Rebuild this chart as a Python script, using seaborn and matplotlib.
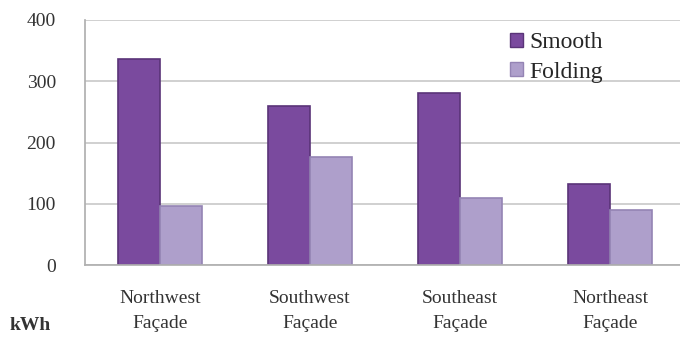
import matplotlib
matplotlib.use("Agg")
import matplotlib.pyplot as plt
import seaborn as sns
import pandas as pd
from matplotlib.patches import Patch

facades = ["Northwest\nFaçade", "Southwest\nFaçade", "Southeast\nFaçade", "Northeast\nFaçade"]
series = ["Smooth", "Folding"]
smooth_kwh = [337, 260, 281, 133]
folding_kwh = [96, 176, 109, 89]
y_ticks = [0, 100, 200, 300, 400]
unit_label = "kWh"

colors = {"Smooth": "#7a4a9e", "Folding": "#ae9fcb"}
edges = {"Smooth": "#5a3478", "Folding": "#9484b4"}

df = pd.DataFrame({
    "facade": facades * 2,
    "series": [series[0]] * len(facades) + [series[1]] * len(facades),
    "kwh": smooth_kwh + folding_kwh,
})

sns.set_theme(style="white")
plt.rcParams["font.family"] = ["Liberation Serif", "DejaVu Serif"]

fig = plt.figure(figsize=(6.8, 3.45), dpi=100)
ax = fig.add_axes([85 / 680, 80 / 345, 600 / 680, 245 / 345])

sns.barplot(data=df, x="facade", y="kwh", hue="series", palette=colors,
            width=0.56, saturation=1, ax=ax, legend=False)

for patch, s in zip(ax.patches, [series[0]] * len(facades) + [series[1]] * len(facades)):
    patch.set_edgecolor(edges[s])
    patch.set_linewidth(1.2)

ax.set_ylim(0, 400)
ax.set_xlim(-0.5, 3.5)
ax.set_yticks(y_ticks)
ax.set_yticklabels([str(v) for v in y_ticks], fontsize=14, color="#333333")
ax.tick_params(axis="y", length=7, color="#aaaaaa", pad=14)
ax.set_xticks(range(len(facades)))
ax.set_xticklabels(facades, fontsize=14, color="#333333", linespacing=1.65)
ax.tick_params(axis="x", length=0, pad=18)
ax.set_xlabel("")
ax.set_ylabel("")
ax.yaxis.grid(True, color="#c8c8c8", linewidth=1.2)
ax.set_axisbelow(True)
for side in ["top", "right"]:
    ax.spines[side].set_visible(False)
ax.spines["left"].set_color("#b0b0b0")
ax.spines["bottom"].set_color("#b0b0b0")

handles = [Patch(facecolor=colors[s], edgecolor=edges[s]) for s in series]
ax.legend(handles, series, loc="upper left", bbox_to_anchor=(425 / 600, 0.95),
          frameon=False, fontsize=17, handlelength=0.55, handleheight=0.55,
          handletextpad=0.25, labelspacing=0.35, borderaxespad=0, borderpad=0)

fig.text(10 / 680, 1 - 326 / 345, unit_label, fontsize=14, fontweight="bold",
         va="center", ha="left", color="#333333")

fig.savefig("out.png", dpi=100)
